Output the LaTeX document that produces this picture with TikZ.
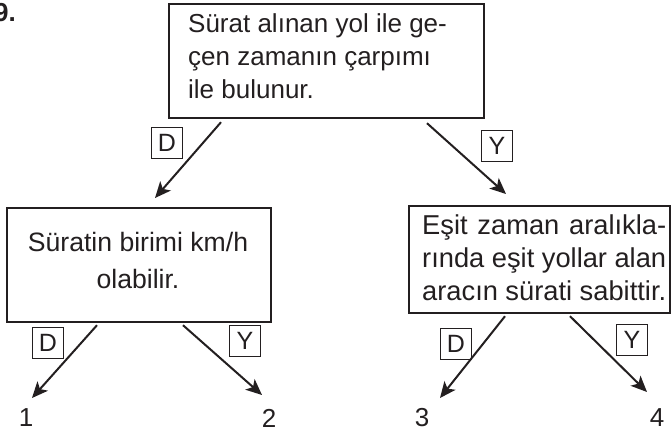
\documentclass[tikz,border=0pt]{standalone}
\usepackage{fontspec}
\setmainfont{Liberation Sans}
\usetikzlibrary{arrows.meta}
\definecolor{ink}{HTML}{231F20}
\begin{document}
\begin{tikzpicture}[x=1pt,y=-1pt,
  box/.style={draw=ink,line width=2.2pt,inner sep=0pt,anchor=north west},
  txt/.style={inner sep=0pt,text=ink},
  lab/.style={draw=ink,line width=1.4pt,minimum size=31pt,inner sep=0pt,text=ink,font=\fontsize{25}{25}\selectfont},
  arr/.style={draw=ink,line width=2pt,-{Stealth[length=16pt,width=14pt,inset=4pt]}},
  num/.style={inner sep=0pt,text=ink,font=\fontsize{26}{26}\selectfont}]
\useasboundingbox (0,0) rectangle (672,437);
\node[txt,anchor=base east,font=\bfseries\fontsize{26}{26}\selectfont] (qnum) at (16,21) {9.};
% boxes
\node[box,minimum width=315pt,minimum height=114pt] (tbox) at (168,3) {};
\node[box,minimum width=264pt,minimum height=114pt] (lbox) at (6,207) {};
\node[box,minimum width=261pt,minimum height=107pt] (rbox) at (408,205) {};
% texts
\node[txt,anchor=north west,align=left,font=\fontsize{26}{33}\selectfont] (ttext) at (188,13)
  {Sürat alınan yol ile ge-\\çen zamanın çarpımı\\ile bulunur.};
\node[txt,anchor=north,align=center,font=\fontsize{26.6}{37}\selectfont] (ltext) at (138,232)
  {Süratin birimi km/h\\olabilir.};
\node[txt,anchor=north west,align=left,font=\fontsize{27.3}{33}\selectfont] (rtext) at (422,215)
  {\makebox[244pt][s]{Eşit zaman aralıkla-}\\\makebox[244pt][s]{rında eşit yollar alan}\\\makebox[244pt][s]{aracın sürati sabittir.}};
% end points
\coordinate (tD) at (155,198);
\coordinate (tY) at (506,194);
\coordinate (lD) at (32,398);
\coordinate (lY) at (262,395);
\coordinate (rD) at (440,398);
\coordinate (rY) at (647,392);
% arrows
\draw[arr] ([xshift=53pt,yshift=-3pt]tbox.south west) -- (tD);
\draw[arr] ([xshift=259pt,yshift=-4pt]tbox.south west) -- (tY);
\draw[arr] ([xshift=91pt,yshift=-2pt]lbox.south west) -- (lD);
\draw[arr] ([xshift=177pt,yshift=-2pt]lbox.south west) -- (lY);
\draw[arr] ([xshift=97pt,yshift=-2pt]rbox.south west) -- (rD);
\draw[arr] ([xshift=162pt,yshift=-2pt]rbox.south west) -- (rY);
% labels
\node[lab] (tDl) at (167,143) {D};
\node[lab] (tYl) at (497,146) {Y};
\node[lab] (lDl) at (48,343) {D};
\node[lab] (lYl) at (245,341) {Y};
\node[lab] (rDl) at (456,344) {D};
\node[lab] (rYl) at (632,340) {Y};
% numbers
\node[num] (n1) at (26,418) {1};
\node[num] (n2) at (269,418) {2};
\node[num] (n3) at (422,418) {3};
\node[num] (n4) at (657,418) {4};
\end{tikzpicture}
\end{document}
